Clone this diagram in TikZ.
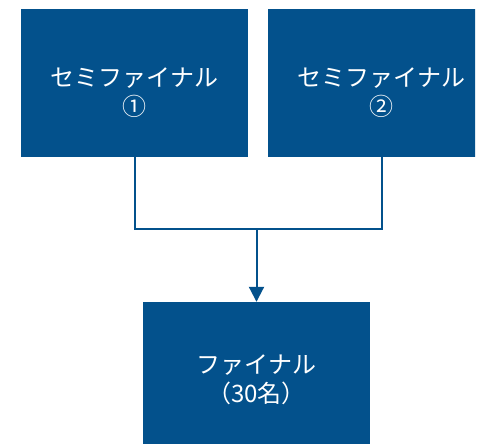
\documentclass[tikz,border=0pt]{standalone}
\usepackage{fontspec}
\setmainfont{Noto Sans CJK JP}
\usetikzlibrary{arrows.meta}
\definecolor{boxblue}{RGB}{3,81,140}
\tikzset{
  stagebox/.style={fill=boxblue, draw=none, minimum width=227bp, minimum height=148bp, inner sep=0pt},
  stagetext/.style={text=white, align=center, font=\fontsize{24bp}{29bp}\selectfont},
  link/.style={draw=boxblue, line width=2bp},
}
\begin{document}
\begin{tikzpicture}[x=1bp,y=-1bp]
\useasboundingbox (0,0) rectangle (478,444);
\begin{scope}
\clip (0,0) rectangle (475,444);
\node[stagebox, label={[stagetext, yshift=-10bp]center:セミファイナル\\①}] (s1) at (134.5,83) {};
\node[stagebox, label={[stagetext, yshift=-10bp]center:セミファイナル\\②}] (s2) at (381.5,83) {};
\node[stagebox, label={[stagetext, yshift=-4bp]center:ファイナル\\（30名）}] (f) at (256.5,376) {};
\end{scope}
\coordinate (j) at (256.5,229);
\draw[link] (s1.south) |- (s2.south |- j) -- (s2.south);
\draw[link, -{Triangle[width=15bp,length=15bp]}] (j) -- (f.north);
\end{tikzpicture}
\end{document}
